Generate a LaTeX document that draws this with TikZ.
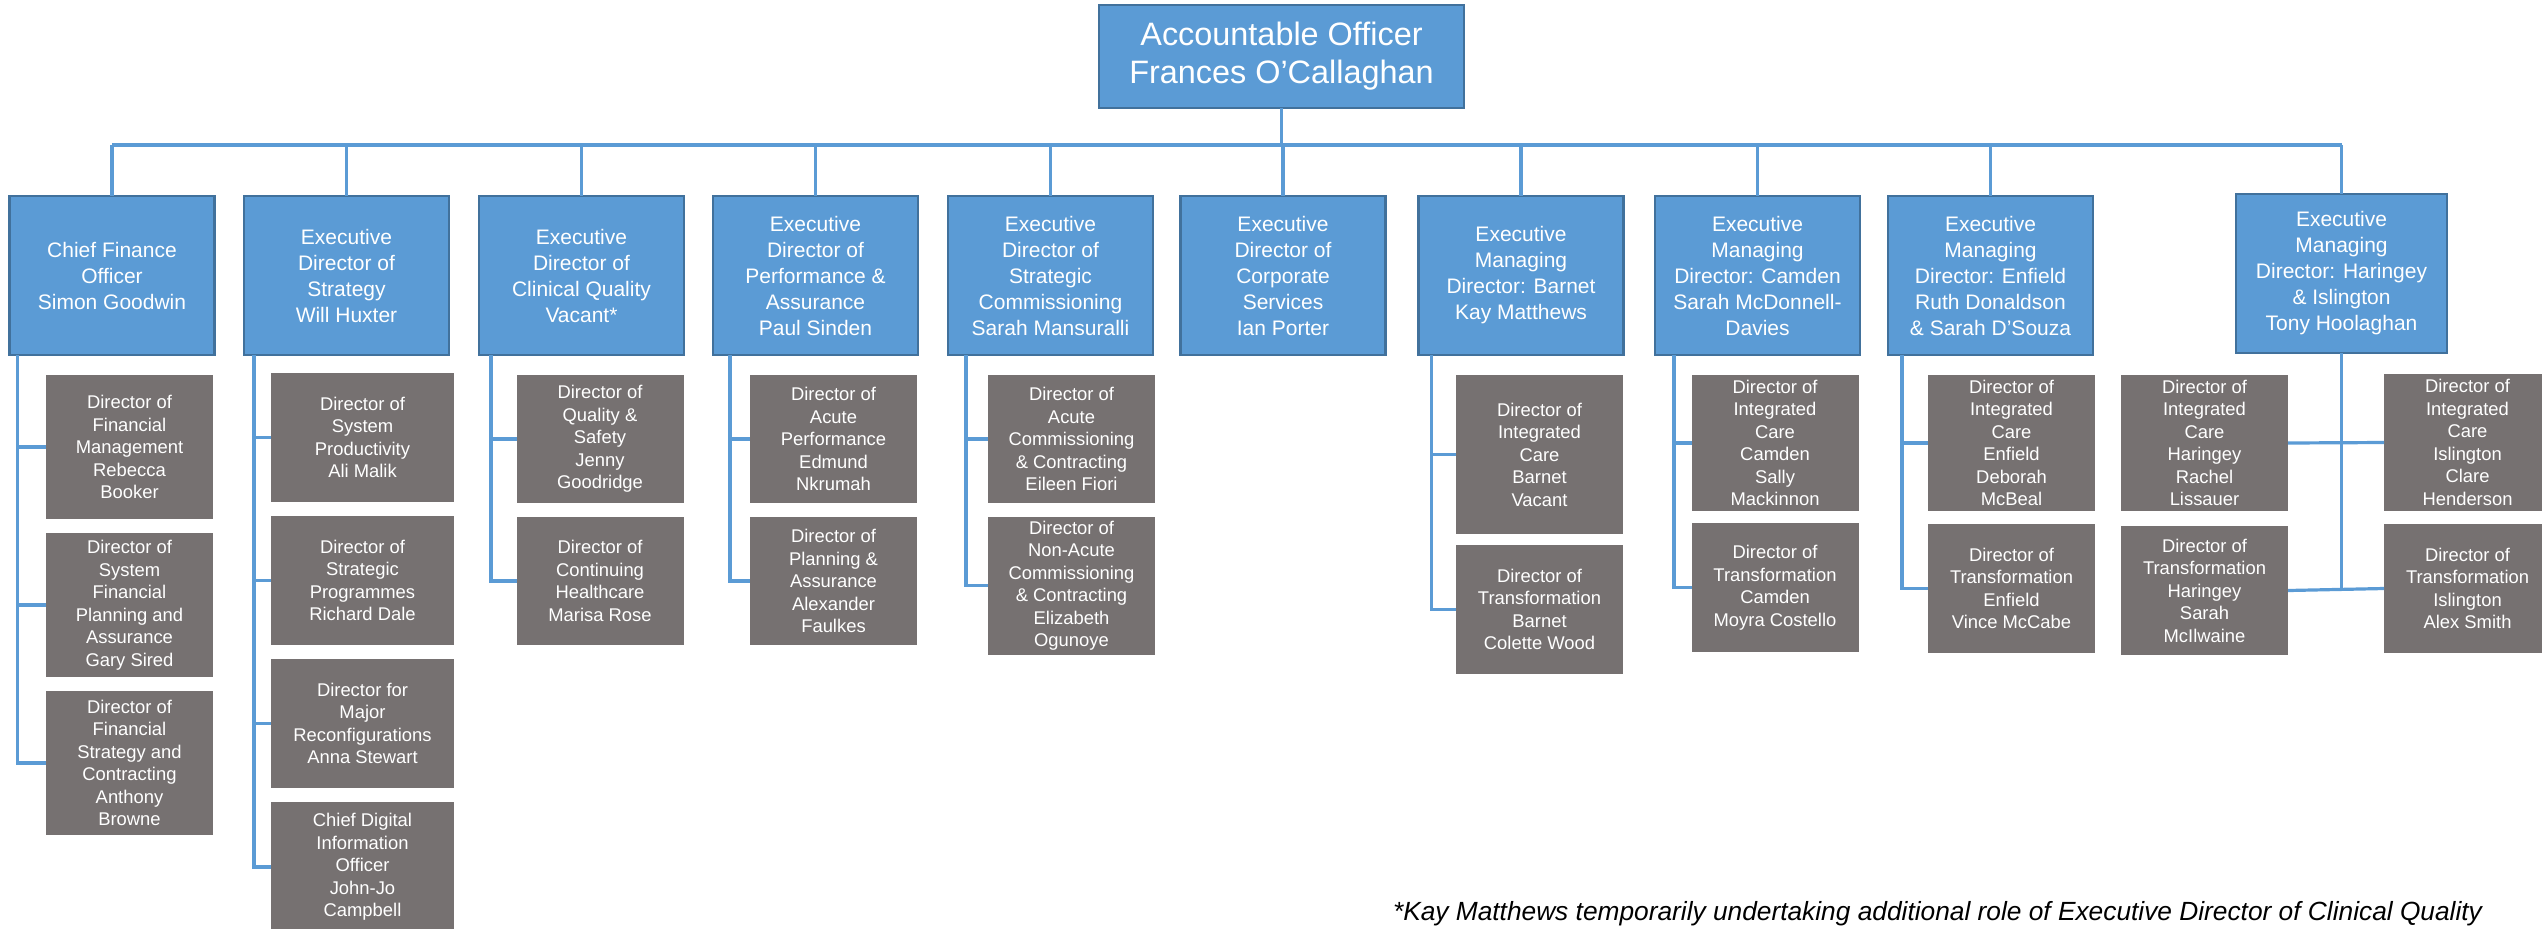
\documentclass[tikz,border=0pt]{standalone}
\usepackage{fontspec}
\setmainfont{Liberation Sans}
\usetikzlibrary{positioning}
\definecolor{chartblue}{HTML}{5B9BD5}
\definecolor{chartedge}{HTML}{41719C}
\definecolor{chartgrey}{HTML}{767171}

\begin{document}
\begin{tikzpicture}[
  x=0.5pt, y=-0.5pt,
  node distance=7pt,
  every node/.style={text=white, align=center, inner sep=2pt, outer sep=0pt},
  headbox/.style={rectangle, fill=chartblue, draw=chartedge, line width=1.25pt, minimum width=182.5pt, minimum height=51.5pt, font=\fontsize{16.2}{19}\selectfont},
  execbox/.style={rectangle, fill=chartblue, draw=chartedge, line width=1.25pt, minimum width=102.5pt, minimum height=79.5pt, font=\fontsize{10.5}{13}\selectfont},
  deputybox/.style={rectangle, fill=chartgrey, minimum width=83.5pt, minimum height=64.5pt, font=\fontsize{9.2}{11.25}\selectfont},
  linkline/.style={draw=chartblue, line width=1.6pt}
]
\useasboundingbox (0,0) rectangle (2542,928);

\node[headbox] (ao) at (1281.5,56.5) {Accountable Officer\\Frances O’Callaghan};
\coordinate (bus) at (0,145);

\node[execbox] (cfo) at (112,275.5) {Chief Finance\\Officer\\Simon Goodwin};
\node[execbox] (strat) at (346.5,275.5) {Executive\\Director of\\Strategy\\Will Huxter};
\node[execbox] (clin) at (581.5,275.5) {Executive\\Director of\\Clinical Quality\\Vacant*};
\node[execbox] (perf) at (815.5,275.5) {Executive\\Director of\\Performance \&\\Assurance\\Paul Sinden};
\node[execbox] (comm) at (1050.5,275.5) {Executive\\Director of\\Strategic\\Commissioning\\Sarah Mansuralli};
\node[execbox] (corp) at (1283,275.5) {Executive\\Director of\\Corporate\\Services\\Ian Porter};
\node[execbox] (barnet) at (1521,275.5) {Executive\\Managing\\Director: Barnet\\Kay Matthews};
\node[execbox] (camden) at (1757.5,275.5) {Executive\\Managing\\Director: Camden\\Sarah McDonnell-\\Davies};
\node[execbox] (enfield) at (1990.5,275.5) {Executive\\Managing\\Director: Enfield\\Ruth Donaldson\\\& Sarah D’Souza};
\node[execbox, minimum width=105.5pt] (haringey) at (2341.5,273.5) {Executive\\Managing\\Director: Haringey\\\& Islington\\Tony Hoolaghan};

\node[deputybox, minimum height=72pt, anchor=north] (finmgmt) at (129.5,375) {Director of\\Financial\\Management\\Rebecca\\Booker};
\node[deputybox, minimum height=72pt, below=of finmgmt] (finplan) {Director of\\System\\Financial\\Planning and\\Assurance\\Gary Sired};
\node[deputybox, minimum height=72pt, below=of finplan] (finstrat) {Director of\\Financial\\Strategy and\\Contracting\\Anthony\\Browne};

\node[deputybox, minimum width=91.5pt, anchor=north] (prod) at (362.5,373) {Director of\\System\\Productivity\\Ali Malik};
\node[deputybox, minimum width=91.5pt, below=of prod] (progs) {Director of\\Strategic\\Programmes\\Richard Dale};
\node[deputybox, minimum width=91.5pt, below=of progs] (reconf) {Director for\\Major\\Reconfigurations\\Anna Stewart};
\node[deputybox, minimum width=91.5pt, minimum height=65pt, below=of reconf] (digital) {Chief Digital\\Information\\Officer\\John-Jo\\Campbell};

\node[deputybox, minimum height=64pt, anchor=north] (qualsafe) at (600,375) {Director of\\Quality \&\\Safety\\Jenny\\Goodridge};
\node[deputybox, minimum height=64pt, below=of qualsafe] (contcare) {Director of\\Continuing\\Healthcare\\Marisa Rose};

\node[deputybox, minimum height=64pt, anchor=north] (acuteperf) at (833.5,375) {Director of\\Acute\\Performance\\Edmund\\Nkrumah};
\node[deputybox, minimum height=64pt, below=of acuteperf] (planassur) {Director of\\Planning \&\\Assurance\\Alexander\\Faulkes};

\node[deputybox, minimum height=64pt, anchor=north] (acutecomm) at (1071.5,375) {Director of\\Acute\\Commissioning\\\& Contracting\\Eileen Fiori};
\node[deputybox, minimum height=68pt, below=of acutecomm] (nonacute) {Director of\\Non-Acute\\Commissioning\\\& Contracting\\Elizabeth\\Ogunoye};

\node[deputybox, minimum height=79.5pt, anchor=north] (icbarnet) at (1539.5,375) {Director of\\Integrated\\Care\\Barnet\\Vacant};
\node[deputybox, below=5.5pt of icbarnet] (trbarnet) {Director of\\Transformation\\Barnet\\Colette Wood};

\node[deputybox, minimum height=68pt, anchor=north] (iccamden) at (1775,375) {Director of\\Integrated\\Care\\Camden\\Sally\\Mackinnon};
\node[deputybox, below=6pt of iccamden] (trcamden) {Director of\\Transformation\\Camden\\Moyra Costello};

\node[deputybox, minimum height=68pt, anchor=north] (icenfield) at (2011.5,375) {Director of\\Integrated\\Care\\Enfield\\Deborah\\McBeal};
\node[deputybox, below=6.5pt of icenfield] (trenfield) {Director of\\Transformation\\Enfield\\Vince McCabe};

\node[deputybox, minimum height=68pt, anchor=north] (icharingey) at (2204.5,375) {Director of\\Integrated\\Care\\Haringey\\Rachel\\Lissauer};
\node[deputybox, below=7.5pt of icharingey] (trharingey) {Director of\\Transformation\\Haringey\\Sarah\\McIlwaine};

\node[deputybox, minimum height=68.5pt, anchor=north] (icislington) at (2467.5,374) {Director of\\Integrated\\Care\\Islington\\Clare\\Henderson};
\node[deputybox, below=6.5pt of icislington] (trislington) {Director of\\Transformation\\Islington\\Alex Smith};

\node[text=black, anchor=base west, inner sep=0pt, font=\fontsize{13.15}{15}\selectfont\itshape] (note) at (1393,920) {*Kay Matthews temporarily undertaking additional role of Executive Director of Clinical Quality};

\draw[linkline] (ao.south) -- (ao |- bus);
\draw[linkline] (cfo.north |- bus) -- (haringey.north |- bus);
\draw[linkline] (cfo.north |- bus) -- (cfo.north) (strat.north |- bus) -- (strat.north)
  (clin.north |- bus) -- (clin.north) (perf.north |- bus) -- (perf.north)
  (comm.north |- bus) -- (comm.north) (corp.north |- bus) -- (corp.north)
  (barnet.north |- bus) -- (barnet.north) (camden.north |- bus) -- (camden.north)
  (enfield.north |- bus) -- (enfield.north) (haringey.north |- bus) -- (haringey.north);

\coordinate (cfospine) at ([xshift=4pt]cfo.south west);
\coordinate (stratspine) at ([xshift=5pt]strat.south west);
\coordinate (clinspine) at ([xshift=6pt]clin.south west);
\coordinate (perfspine) at ([xshift=8.5pt]perf.south west);
\coordinate (commspine) at ([xshift=9pt]comm.south west);
\coordinate (barnetspine) at ([xshift=6.5pt]barnet.south west);
\coordinate (camdenspine) at ([xshift=9.5pt]camden.south west);
\coordinate (enfieldspine) at ([xshift=7pt]enfield.south west);

\draw[linkline] (cfospine) |- (finmgmt.west) (cfospine) |- (finplan.west) (cfospine) |- (finstrat.west);
\draw[linkline] (stratspine) |- (prod.west) (stratspine) |- (progs.west) (stratspine) |- (reconf.west) (stratspine) |- (digital.west);
\draw[linkline] (clinspine) |- (qualsafe.west) (clinspine) |- (contcare.west);
\draw[linkline] (perfspine) |- (acuteperf.west) (perfspine) |- (planassur.west);
\draw[linkline] (commspine) |- (acutecomm.west) (commspine) |- (nonacute.west);
\draw[linkline] (barnetspine) |- (icbarnet.west) (barnetspine) |- (trbarnet.west);
\draw[linkline] (camdenspine) |- (iccamden.west) (camdenspine) |- (trcamden.west);
\draw[linkline] (enfieldspine) |- (icenfield.west) (enfieldspine) |- (trenfield.west);
\draw[linkline] (haringey.south) -- (haringey.south |- trharingey.east);
\draw[linkline] (icharingey.east) -- (icislington.west) (trharingey.east) -- (trislington.west);
\end{tikzpicture}
\end{document}
